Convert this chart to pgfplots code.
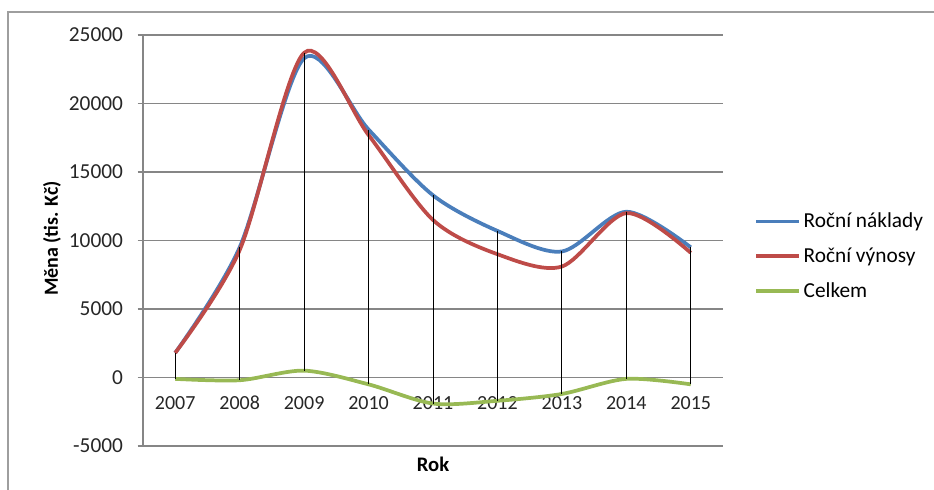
\documentclass[border=0pt]{standalone}
\usepackage{fontspec}
\setmainfont{Carlito}
\usepackage{pgfplots}
\usepackage{pgfplotstable}
\pgfplotsset{compat=1.18}
\definecolor{cBlue}{HTML}{4A7EBB}
\definecolor{cRed}{HTML}{BE4B48}
\definecolor{cGreen}{HTML}{98B954}
\definecolor{cGrid}{HTML}{868686}
\pgfplotstableread{
x naklady vynosy celkem
0 1800 1800 -100
1 9500 9300 -200
2 23300 23700 500
3 18100 17700 -500
4 13300 11500 -1900
5 10700 9000 -1700
6 9200 8100 -1200
7 12100 12000 -100
8 9500 9100 -500
}\datatable
\begin{document}
\begin{tikzpicture}
\useasboundingbox (0,0) rectangle (700.5pt,366.75pt);
\draw[cGrid!80, line width=0.9pt] (6pt,-2pt) -- (6pt,357.75pt) -- (703pt,357.75pt);
\begin{axis}[
  at={(107.25pt,32.25pt)}, anchor=south west,
  scale only axis, width=435pt, height=308.25pt,
  xmin=-0.5, xmax=8.5, ymin=-5000, ymax=25000,
  axis y line*=left, axis x line*=middle,
  axis line style={cGrid, line width=0.8pt, -},
  xtick={0,...,8},
  xticklabels={2007,2008,2009,2010,2011,2012,2013,2014,2015},
  ytick={-5000,0,5000,10000,15000,20000,25000},
  x tick style={draw=none},
  y tick style={cGrid, line width=0.8pt},
  tick align=outside, major tick length=4pt,
  ymajorgrids, grid style={cGrid, line width=0.8pt},
  scaled y ticks=false,
  /pgf/number format/fixed,
  /pgf/number format/set thousands separator={},
  /pgf/number format/assume math mode=true,
  ticklabel style={text=black!85},
  xticklabel style={font=\fontsize{15}{17}\selectfont, anchor=north, text height=11pt, text depth=0pt, yshift=-5.5pt},
  yticklabel style={font=\fontsize{16}{18}\selectfont, xshift=-7.5pt},
  xlabel={\textbf{Rok}},
  xlabel style={at={(axis description cs:0.5,0)}, anchor=north, yshift=-5pt, font=\fontsize{15.5}{17}\selectfont},
  ylabel={\textbf{Měna (tis. Kč)}},
  ylabel style={at={(axis description cs:0,0.505)}, anchor=center, yshift=68.25pt, font=\fontsize{15}{17}\selectfont},
  legend style={at={(1,0.462)}, anchor=west, xshift=23.5pt, draw=none, fill=none,
    font=\fontsize{16}{19}\selectfont, row sep=9.4pt, inner sep=0pt,
    cells={anchor=west}},
  legend image code/.code={\draw[#1] (0pt,0pt) -- (32pt,0pt);},
  clip=false,
]
\addplot[cBlue, line width=2.8pt, smooth, tension=0.5] table[x=x, y=naklady] {\datatable};
\addlegendentry{Roční náklady}
\addplot[cRed, line width=2.8pt, smooth, tension=0.5] table[x=x, y=vynosy] {\datatable};
\addlegendentry{Roční výnosy}
\addplot[cGreen, line width=2.8pt, smooth, tension=0.5] table[x=x, y=celkem] {\datatable};
\addlegendentry{Celkem}
\addplot[black, line width=0.6pt, unbounded coords=jump, forget plot] coordinates {
(0,1800) (0,-100) (0,nan)
(1,9500) (1,-200) (1,nan)
(2,23700) (2,500) (2,nan)
(3,18100) (3,-500) (3,nan)
(4,13300) (4,-1900) (4,nan)
(5,10700) (5,-1700) (5,nan)
(6,9200) (6,-1200) (6,nan)
(7,12100) (7,-100) (7,nan)
(8,9500) (8,-500)
};
\end{axis}
\end{tikzpicture}
\end{document}
